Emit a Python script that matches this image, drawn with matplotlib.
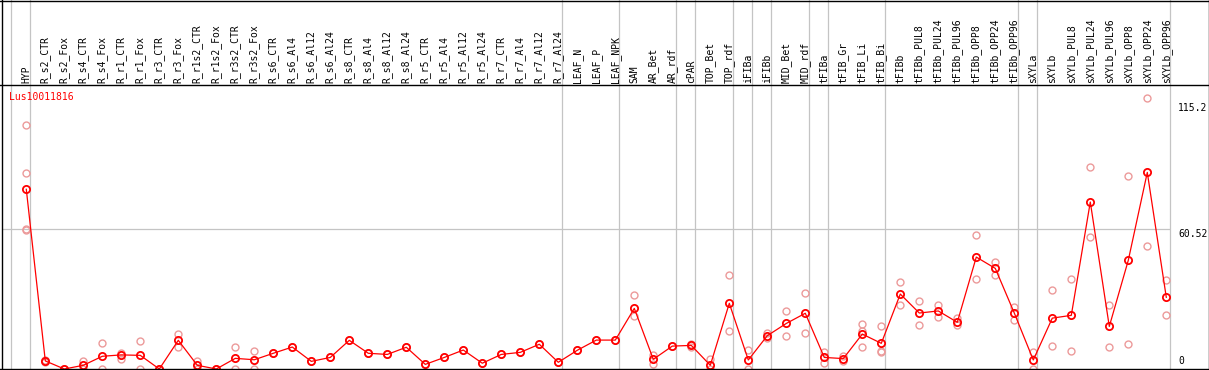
import matplotlib
matplotlib.use("Agg")
import matplotlib.pyplot as plt
from matplotlib.lines import Line2D
import matplotlib.transforms as mtransforms

# sample names (header)
labels = ["HYP", "R_s2_CTR", "R_s2_Fox", "R_s4_CTR", "R_s4_Fox", "R_r1_CTR", "R_r1_Fox",
          "R_r3_CTR", "R_r3_Fox", "R_r1s2_CTR", "R_r1s2_Fox", "R_r3s2_CTR", "R_r3s2_Fox",
          "R_s6_CTR", "R_s6_Al4", "R_s6_Al12", "R_s6_Al24", "R_s8_CTR", "R_s8_Al4",
          "R_s8_Al12", "R_s8_Al24", "R_r5_CTR", "R_r5_Al4", "R_r5_Al12", "R_r5_Al24",
          "R_r7_CTR", "R_r7_Al4", "R_r7_Al12", "R_r7_Al24", "LEAF_N", "LEAF_P", "LEAF_NPK",
          "SAM", "AR_Bet", "AR_rdf", "cPAR", "TOP_Bet", "TOP_rdf", "iFIBa", "iFIBb",
          "MID_Bet", "MID_rdf", "tFIBa", "tFIB_Gr", "tFIB_Li", "tFIB_Bi", "tFIBb",
          "tFIBb_PUL8", "tFIBb_PUL24", "tFIBb_PUL96", "tFIBb_OPP8", "tFIBb_OPP24",
          "tFIBb_OPP96", "sXYLa", "sXYLb", "sXYLb_PUL8", "sXYLb_PUL24", "sXYLb_PUL96",
          "sXYLb_OPP8", "sXYLb_OPP24", "sXYLb_OPP96"]

# mean expression (red line)
means = [77.7, 3.5, 0, 1.6, 5.5, 6.1, 5.9, 0, 12.4, 1.6, 0, 4.6, 4.0,
         6.8, 9.5, 3.3, 5.0, 12.4, 6.8, 6.3, 9.4, 2.0, 5.0, 8.2, 2.5,
         6.3, 7.2, 10.7, 2.9, 8.1, 12.5, 12.5, 26.2, 4.2, 9.9, 10.2, 1.6,
         28.4, 3.9, 14.4, 19.7, 24.1, 5.0, 4.5, 15.1, 11.1, 32.4, 24.2, 25.1,
         20.2, 48.4, 43.5, 24.2, 3.9, 22.0, 23.2, 72.2, 18.4, 47.0, 85.0, 31.0]

# replicate values (pale circles)
reps = [[105.3, 84.6, 60.4, 60.0], [3.9, 3.1], [0, 0], [3.5, 0], [11.1, 0],
        [7.1, 4.5], [12.0, 0], [0, 0], [15.1, 9.4], [3.3, 0], [0, 0], [9.5, 0],
        [7.6, 0], [6.8], [9.5], [3.3], [5.0], [12.4], [6.8], [6.3], [9.4], [2.0],
        [5.0], [8.2], [2.5], [6.3], [7.2], [10.7], [2.9], [8.1], [12.5], [12.5],
        [32.0, 23.1], [6.1, 2.2], [9.9], [10.8, 9.6], [4.2, 0], [40.5, 16.3],
        [8.2, 0], [15.7, 13.3], [24.9, 14.1], [32.7, 15.4], [7.3, 2.5], [5.6, 3.5],
        [19.5, 16.3, 9.4], [18.4, 7.6, 7.3], [37.5, 27.5], [29.3, 18.9], [27.7, 22.6],
        [22.0, 18.9], [57.8, 38.8], [46.1, 40.5], [26.9, 21.0], [7.5, 0], [34.0, 9.8],
        [38.8, 7.6], [87.2, 57.1], [27.5, 9.4], [83.3, 10.7], [117.0, 53.0], [38.5, 23.2]]

# last sample index of each tissue group
group_ends = [-1, 0, 28, 31, 34, 35, 37, 38, 39, 41, 42, 45, 52, 53, 60]
scale_labels = [115.2, 60.52, 0]
gene = "Lus10011816"

W, H = 1209, 370
fig = plt.figure(figsize=(W / 100, H / 100), dpi=100)
ax = fig.add_axes([2 / W, 1 - 369 / H, (1170.7 - 2) / W, (369 - 85) / H])
ax.set_xlim(-1.279, 60.232)
ax.set_ylim(0, 122.8)
ax.set_axis_off()

mono = "DejaVu Sans Mono"
fs = 7.0
x = list(range(len(labels)))

# group separators, running through the header
for g in group_ends:
    ax.axvline(g + 0.22, ymin=0, ymax=369 / 284, color="#c4c4c4", lw=0.9, clip_on=False, zorder=1)
ax.axhline(scale_labels[1], color="#c4c4c4", lw=0.9, zorder=1)

# replicates
for i, r in enumerate(reps):
    ax.plot([i] * len(r), r, "o", ms=5, mfc="none", mec="#ec9a9a", mew=1.0, zorder=2)

ax.plot(x, means, "-", color="red", lw=0.9, zorder=3)
ax.plot(x, means, "o", ms=5.2, mfc="none", mec="red", mew=1.3, zorder=4)

# header labels
head = mtransforms.blended_transform_factory(ax.transData, fig.transFigure)
for i, lab in enumerate(labels):
    ax.text(i, 1 - 83 / H, lab, transform=head, rotation=90, ha="center", va="bottom",
            fontsize=fs, family=mono, color="black", clip_on=False)

fig.text(9 / W, 1 - 92 / H, gene, color="red", fontsize=fs, family=mono, ha="left", va="top")

# scale labels on the right
side = mtransforms.blended_transform_factory(fig.transFigure, ax.transData)
for v in scale_labels[:2]:
    ax.text(1178 / W, v, f"{v:g}", transform=side, ha="left", va="top",
            fontsize=fs, family=mono, clip_on=False)
fig.text(1178 / W, 1 - 366 / H, "0", ha="left", va="bottom", fontsize=fs, family=mono)

# frame
def fline(x0, y0, x1, y1, color="black"):
    fig.add_artist(Line2D([x0 / W, x1 / W], [1 - y0 / H, 1 - y1 / H], color=color, lw=1.0,
                          transform=fig.transFigure))

fline(0, 0.5, W, 0.5)
fline(1.5, 0, 1.5, 369.5)
fline(W - 0.5, 0, W - 0.5, 369.5)
fline(0, 85, W, 85)
fline(0, 369, W, 369)

fig.savefig("out.png", dpi=100)
